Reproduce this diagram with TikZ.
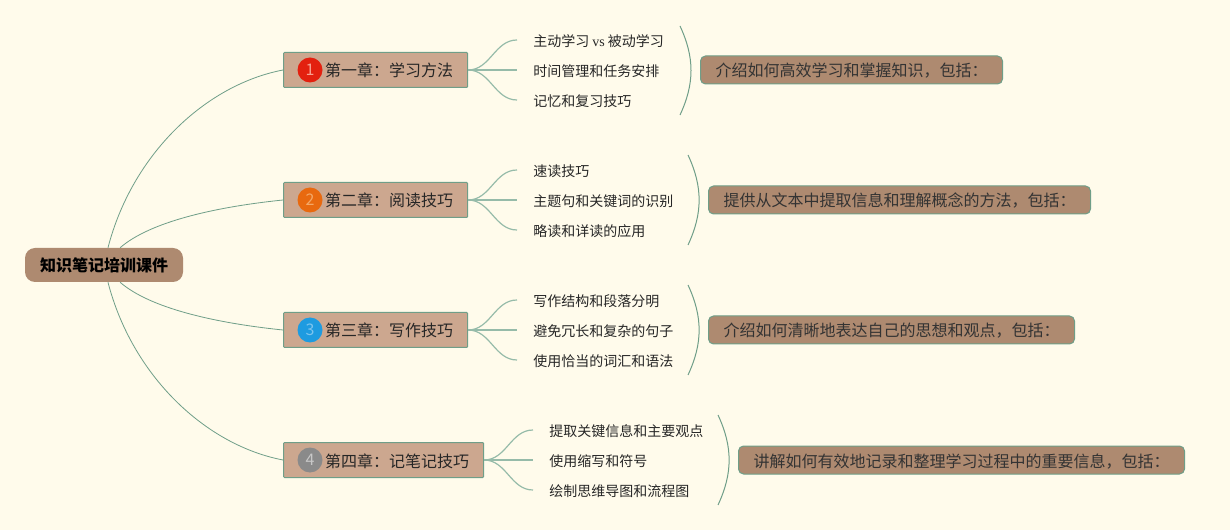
\documentclass[tikz,border=0pt]{standalone}
\usepackage{fontspec}
\setmainfont{Noto Sans CJK SC}
\newfontfamily\latinserif{Liberation Serif}
\usetikzlibrary{positioning}

\definecolor{paper}{HTML}{FFFBEB}
\definecolor{rootfill}{HTML}{AE8A70}
\definecolor{chapfill}{HTML}{CCA78F}
\definecolor{sagegreen}{HTML}{6F9E88}
\definecolor{sagelight}{HTML}{96BBA9}

\tikzset{
    rootbox/.style={fill=rootfill, rounded corners=7.5pt, minimum width=118.5pt, minimum height=25.5pt, inner sep=0pt, font=\fontsize{12}{14}\selectfont\bfseries, text=black},
    chapbox/.style={draw=sagegreen, fill=chapfill, line width=0.75pt, rounded corners=0.75pt, anchor=west, minimum height=26.25pt, inner xsep=10.9pt, inner ysep=0pt, text height=10.5pt, text depth=0pt, font=\fontsize{12}{14}\selectfont, text=black!85, execute at begin node={\hspace*{20.25pt}}},
    badge/.style={circle, minimum size=18.75pt, inner sep=0pt, font=\fontsize{12}{14}\selectfont},
    topic/.style={anchor=west, inner xsep=12pt, inner ysep=0pt, text height=9.2pt, text depth=0pt, font=\fontsize{10.5}{13}\selectfont, text=black!85},
    summary/.style={draw=sagegreen, fill=rootfill, line width=0.75pt, rounded corners=3.75pt, anchor=west, minimum height=21pt, inner xsep=11.25pt, inner ysep=0pt, text height=10.5pt, text depth=0pt, font=\fontsize{12}{14}\selectfont, text=black!80},
    trunk/.style={draw=sagegreen, line width=0.6pt},
    twig/.style={draw=sagelight, line width=0.9pt, out=0, in=180},
    brace/.style={draw=sagegreen, line width=0.75pt, bend left=25}
}

\begin{document}
\begin{tikzpicture}[x=0.75pt, y=-0.75pt]

    % Page
    \fill[paper] (0,0) rectangle (1230,530);
    \useasboundingbox (0,0) rectangle (1230,530);

    % Root and chapters
    \node[rootbox] (root) at (104,265) {知识笔记培训课件};
    \node[chapbox] (chapA) at (283,70)  {第一章：学习方法};
    \node[chapbox] (chapB) at (283,200) {第二章：阅读技巧};
    \node[chapbox] (chapC) at (283,330) {第三章：写作技巧};
    \node[chapbox] (chapD) at (283,460) {第四章：记笔记技巧};

    % Number badges
    \node[badge, fill={rgb,255:red,227;green,32;blue,15}, text={rgb,255:red,248;green,160;blue,144}]   (numA) at (310,70)  {1};
    \node[badge, fill={rgb,255:red,232;green,105;blue,15}, text={rgb,255:red,243;green,168;blue,104}]  (numB) at (310,200) {2};
    \node[badge, fill={rgb,255:red,30;green,155;blue,224}, text={rgb,255:red,124;green,196;blue,238}]  (numC) at (310,330) {3};
    \node[badge, fill={rgb,255:red,138;green,138;blue,138}, text={rgb,255:red,200;green,200;blue,200}] (numD) at (310,460) {4};

    % Topics
    \node[topic] (topicA1) at (517,40)  {主动学习 {\latinserif vs} 被动学习};
    \node[topic] (topicA2) at (517,70)  {时间管理和任务安排};
    \node[topic] (topicA3) at (517,100) {记忆和复习技巧};
    \node[topic] (topicB1) at (517,170) {速读技巧};
    \node[topic] (topicB2) at (517,200) {主题句和关键词的识别};
    \node[topic] (topicB3) at (517,230) {略读和详读的应用};
    \node[topic] (topicC1) at (517,300) {写作结构和段落分明};
    \node[topic] (topicC2) at (517,330) {避免冗长和复杂的句子};
    \node[topic] (topicC3) at (517,360) {使用恰当的词汇和语法};
    \node[topic] (topicD1) at (533,430) {提取关键信息和主要观点};
    \node[topic] (topicD2) at (533,460) {使用缩写和符号};
    \node[topic] (topicD3) at (533,490) {绘制思维导图和流程图};

    % Summaries
    \node[summary] (sumA) at (700,70)  {介绍如何高效学习和掌握知识，包括：};
    \node[summary] (sumB) at (708,200) {提供从文本中提取信息和理解概念的方法，包括：};
    \node[summary] (sumC) at (708,330) {介绍如何清晰地表达自己的思想和观点，包括：};
    \node[summary] (sumD) at (738,460) {讲解如何有效地记录和整理学习过程中的重要信息，包括：};

    % Brace ends
    \coordinate (capA) at (680,26);
    \coordinate (endA) at (680,115);
    \coordinate (capB) at (688,155);
    \coordinate (endB) at (688,245);
    \coordinate (capC) at (688,285);
    \coordinate (endC) at (688,375);
    \coordinate (capD) at (718,415);
    \coordinate (endD) at (718,505);

    % Root to chapters
    \draw[trunk] (root.77)  .. controls +(24,-93) and +(-78,15) .. (chapA.west);
    \draw[trunk] (root.47)  .. controls +(30,-26) and +(-68,7)  .. (chapB.west);
    \draw[trunk] (root.-47) .. controls +(30,26)  and +(-68,-7) .. (chapC.west);
    \draw[trunk] (root.-77) .. controls +(24,93)  and +(-78,-15) .. (chapD.west);

    % Chapters to topics
    \path   (chapA.east) edge [twig] (topicA1.west)
                         edge [twig] (topicA2.west)
                         edge [twig] (topicA3.west)
            (chapB.east) edge [twig] (topicB1.west)
                         edge [twig] (topicB2.west)
                         edge [twig] (topicB3.west)
            (chapC.east) edge [twig] (topicC1.west)
                         edge [twig] (topicC2.west)
                         edge [twig] (topicC3.west)
            (chapD.east) edge [twig] (topicD1.west)
                         edge [twig] (topicD2.west)
                         edge [twig] (topicD3.west);

    % Braces
    \path   (capA) edge [brace] (endA)
            (capB) edge [brace] (endB)
            (capC) edge [brace] (endC)
            (capD) edge [brace] (endD);

\end{tikzpicture}
\end{document}
